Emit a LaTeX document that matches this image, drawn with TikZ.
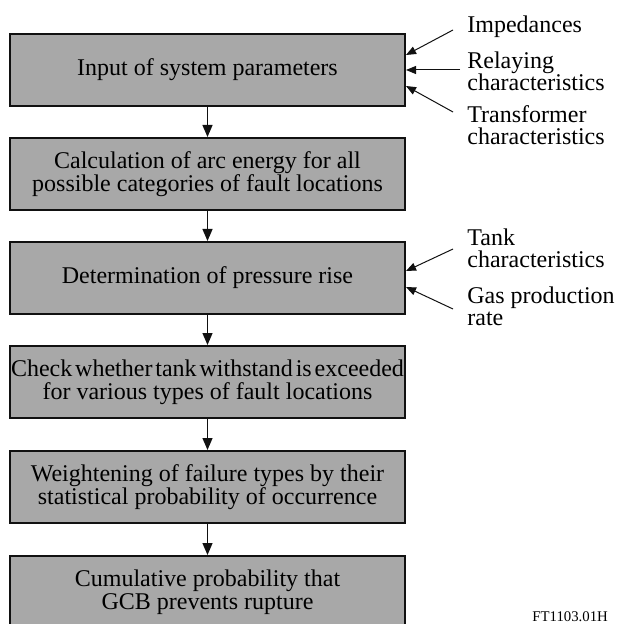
\documentclass[tikz,border=0pt]{standalone}
\usepackage{fontspec}
\setmainfont{Liberation Serif}
\usepackage{xcolor}
\usetikzlibrary{arrows.meta}
\definecolor{boxgray}{HTML}{A8A8A8}
\definecolor{inkblack}{HTML}{111111}

\begin{document}
\begin{tikzpicture}[x = 0.5pt, y = -0.5pt,
	stage/.style = {draw = inkblack, fill = boxgray, line width = 1pt, minimum width = 197.5pt, minimum height = 36pt, inner sep = 0pt, align = center, font = \fontsize{12}{11.5}\selectfont},
	inlabel/.style = {anchor = north west, inner sep = 0pt, align = left, font = \fontsize{12}{11}\selectfont},
	flow/.style = {draw = inkblack, line width = 0.6pt, -{Triangle[length = 6pt, width = 5pt]}},
	feed/.style = {draw = inkblack, line width = 0.5pt, -{Triangle[length = 5pt, width = 4pt]}}]
		\useasboundingbox (0,0) rectangle (618,624);
		\node[stage] (inp) at (207.5,70) {Input of system parameters};
		\node[stage] (arc) at (207.5,174) {Calculation of arc energy for all\\possible categories of fault locations};
		\node[stage] (press) at (207.5,278) {Determination of pressure rise};
		\node[stage] (tank) at (207.5,382) {\spaceskip = 0.12em plus 0.02em Check whether tank withstand is exceeded\\for various types of fault locations};
		\node[stage] (weight) at (207.5,487) {Weightening of failure types by their\\statistical probability of occurrence};
		\node[stage] (cum) at (207.5,592) {Cumulative probability that\\GCB prevents rupture};
		\node[inlabel] (imped) at (467,15.6) {Impedances};
		\node[inlabel] (relay) at (467,51.6) {Relaying\\characteristics};
		\node[inlabel] (trafo) at (467,105.6) {Transformer\\characteristics};
		\node[inlabel] (tankc) at (467,228.6) {Tank\\characteristics};
		\node[inlabel] (gas) at (467,286.6) {Gas production\\rate};
		\node[anchor = base west, inner sep = 0pt, font = \fontsize{7.4}{8}\selectfont] (figid) at (532,621.5) {FT1103.01H};
		\coordinate (imped-tail) at (453,30);
		\coordinate (relay-tail) at (460,70);
		\coordinate (trafo-tail) at (453,112);
		\coordinate (tankc-tail) at (453,249);
		\coordinate (gas-tail) at (453,309);
		\draw[flow] (inp) -- (arc);
		\draw[flow] (arc) -- (press);
		\draw[flow] (press) -- (tank);
		\draw[flow] (tank) -- (weight);
		\draw[flow] (weight) -- (cum);
		\draw[feed] (imped-tail) -- ([yshift = 7.5pt]inp.east);
		\draw[feed] (relay-tail) -- (inp.east);
		\draw[feed] (trafo-tail) -- ([yshift = -8pt]inp.east);
		\draw[feed] (tankc-tail) -- ([yshift = 3.5pt]press.east);
		\draw[feed] (gas-tail) -- ([yshift = -4.5pt]press.east);
	\end{tikzpicture}
\end{document}
